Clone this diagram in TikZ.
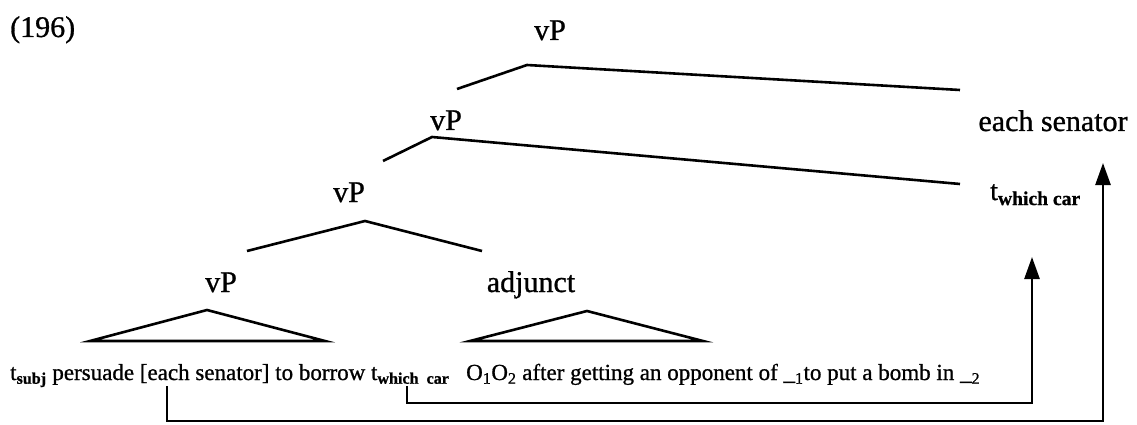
\documentclass[tikz,border=0pt]{standalone}
\usepackage{fontspec}
\setmainfont{Liberation Serif}
\newfontfamily\scanserif{Liberation Serif}[FakeBold=0.9]
\usetikzlibrary{arrows.meta, positioning, calc}

\begin{document}
\begin{tikzpicture}[
  x=1pt, y=-1pt,
  cat/.style={inner sep=0pt, anchor=base, font=\scanserif\fontsize{30}{34}\selectfont},
  words/.style={inner sep=0pt, anchor=base west, font=\scanserif\fontsize{23}{27}\selectfont},
  branch/.style={line width=2.6pt},
  mover/.style={line width=2.6pt, -{Triangle[length=22pt,width=15pt]}},
]
\useasboundingbox (0,0) rectangle (1137,425);

% labels
\node[cat, anchor=base west] (num) at (10,37) {(196)};
\node[cat] (vpA) at (550,40) {vP};
\node[cat] (vpB) at (446,130) {vP};
\node[cat] (vpC) at (349,202) {vP};
\node[cat] (vpD) at (221,292) {vP};
\node[cat] (adj) at (531,292) {adjunct};
\node[cat] (each) at (1053,131) {each senator};
\node[cat, anchor=base west, font=\scanserif\fontsize{28}{30}\selectfont] (twc) at (990,200)
  {t\textsubscript{\bfseries which car}};

% terminal strings
\node[words] (strL) at (10,380)
  {t\textsubscript{\bfseries subj} persuade [each senator] to borrow t\textsubscript{\bfseries which\ \ car}};
\node[words] (strR) at (466,380)
  {O\textsubscript{1}O\textsubscript{2} after getting an opponent of \_\textsubscript{1}to put a bomb in \_\textsubscript{2}};

% branches
\draw[branch] (457,89) -- (527,65) -- (960,90);
\draw[branch] (383,161) -- (432,137) -- (960,184);
\draw[branch] (247,251) -- (365,221) -- (482,251);
\draw[branch] (90,341) -- (207,310) -- (325,341) -- cycle;
\draw[branch] (470,341) -- (587,311) -- (703,341) -- cycle;

% movement
\coordinate (srcA) at (167,386);
\coordinate (srcB) at (407,386);
\coordinate (tipA) at (1103,163);
\coordinate (tipB) at (1032,257);
\coordinate (lowA) at (0,421);
\coordinate (lowB) at (0,403);
\draw[mover] (srcA) -- (srcA |- lowA) -| (tipA);
\draw[mover] (srcB) -- (srcB |- lowB) -| (tipB);
\end{tikzpicture}
\end{document}
